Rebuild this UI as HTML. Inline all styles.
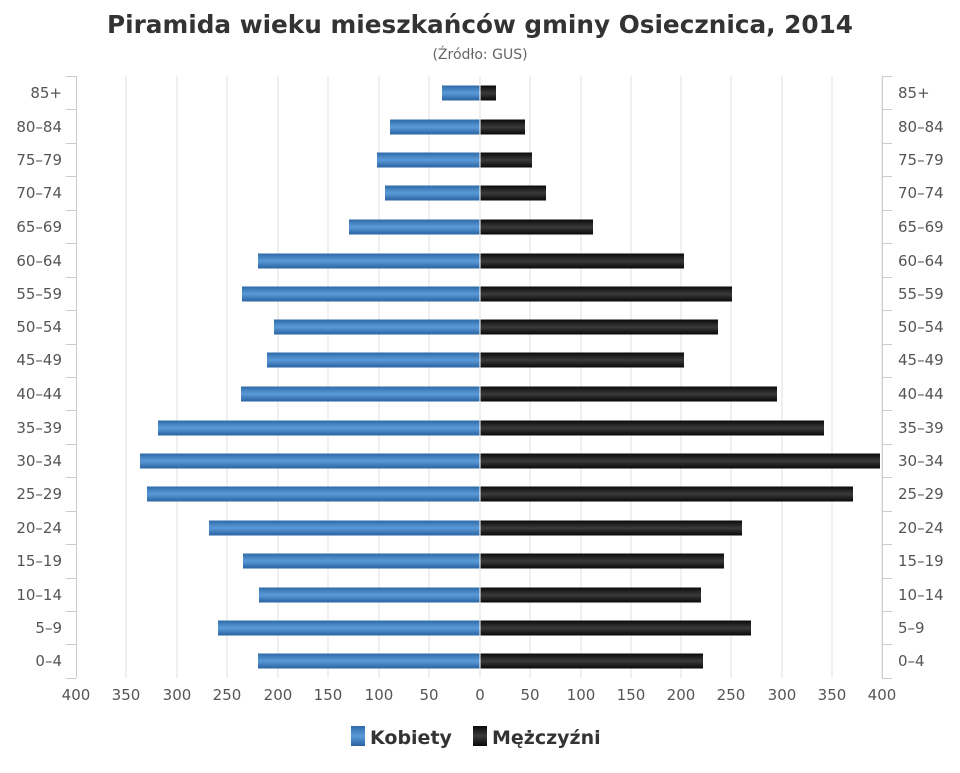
<!DOCTYPE html>
<html><head><meta charset="utf-8"><style>
html,body{margin:0;padding:0;background:#fff}
svg text{font-family:"DejaVu Sans","Liberation Sans",sans-serif}
</style></head><body>
<svg id="s" width="960" height="768" viewBox="0 0 960 768" xmlns="http://www.w3.org/2000/svg">
<defs>
<linearGradient id="gb" x1="0" y1="0" x2="0" y2="1">
<stop offset="0" stop-color="#2f6aa8"/><stop offset="0.5" stop-color="#5a9ad8"/><stop offset="1" stop-color="#2a62a0"/></linearGradient>
<linearGradient id="gk" x1="0" y1="0" x2="0" y2="1">
<stop offset="0" stop-color="#0a0a0a"/><stop offset="0.5" stop-color="#3a3a3a"/><stop offset="1" stop-color="#080808"/></linearGradient>
</defs>
<g id="grid"></g>
<g id="bars"></g>
<text x="480" y="33" text-anchor="middle" font-size="25" font-weight="bold" fill="#333" textLength="746" lengthAdjust="spacingAndGlyphs">Piramida wieku mieszkańców gminy Osiecznica, 2014</text>
<text x="480" y="59" text-anchor="middle" font-size="14" fill="#666">(Źródło: GUS)</text>
<g font-size="15" fill="#555" text-anchor="end">
<text x="62" y="98">85+</text><text x="62" y="132">80–84</text><text x="62" y="165">75–79</text><text x="62" y="198">70–74</text><text x="62" y="232">65–69</text><text x="62" y="266">60–64</text><text x="62" y="299">55–59</text><text x="62" y="332">50–54</text><text x="62" y="365">45–49</text><text x="62" y="399">40–44</text><text x="62" y="433">35–39</text><text x="62" y="466">30–34</text><text x="62" y="499">25–29</text><text x="62" y="533">20–24</text><text x="62" y="566">15–19</text><text x="62" y="600">10–14</text><text x="62" y="633">5–9</text><text x="62" y="666">0–4</text>
</g>
<g font-size="15" fill="#555" text-anchor="start">
<text x="898" y="98">85+</text><text x="898" y="132">80–84</text><text x="898" y="165">75–79</text><text x="898" y="198">70–74</text><text x="898" y="232">65–69</text><text x="898" y="266">60–64</text><text x="898" y="299">55–59</text><text x="898" y="332">50–54</text><text x="898" y="365">45–49</text><text x="898" y="399">40–44</text><text x="898" y="433">35–39</text><text x="898" y="466">30–34</text><text x="898" y="499">25–29</text><text x="898" y="533">20–24</text><text x="898" y="566">15–19</text><text x="898" y="600">10–14</text><text x="898" y="633">5–9</text><text x="898" y="666">0–4</text>
</g>
<g font-size="15" fill="#555" text-anchor="middle">
<text x="76" y="700">400</text><text x="126" y="700">350</text><text x="177" y="700">300</text><text x="227" y="700">250</text><text x="278" y="700">200</text><text x="328" y="700">150</text><text x="379" y="700">100</text><text x="429" y="700">50</text><text x="480" y="700">0</text><text x="530" y="700">50</text><text x="581" y="700">100</text><text x="631" y="700">150</text><text x="681" y="700">200</text><text x="731" y="700">250</text><text x="782" y="700">300</text><text x="832" y="700">350</text><text x="882" y="700">400</text>
</g>
<rect x="351" y="726" width="14" height="20" fill="url(#gb)"/>
<text x="370" y="744" font-size="19" font-weight="bold" fill="#333">Kobiety</text>
<rect x="473" y="726" width="14" height="20" fill="url(#gk)"/>
<text x="492" y="744" font-size="19" font-weight="bold" fill="#333">Mężczyźni</text>
</svg>
<script>
var NS="http://www.w3.org/2000/svg";
function el(p,t,a){var e=document.createElementNS(NS,t);for(var k in a)e.setAttribute(k,a[k]);p.appendChild(e);return e;}
var g=document.getElementById("grid"),b=document.getElementById("bars");
var xs=[126,177,227,278,328,379,429,480,530,581,631,681,731,782,832,882];
xs.forEach(function(x){el(g,"line",{x1:x,x2:x,y1:76,y2:678,stroke:"#e2e2e2","stroke-width":1});});
el(g,"line",{x1:76.5,x2:76.5,y1:76,y2:678,stroke:"#ccc"});
el(g,"line",{x1:882.5,x2:882.5,y1:76,y2:678,stroke:"#ccc"});
for(var i=0;i<=18;i++){var y=Math.round(76+i*33.44)+.5;
el(g,"line",{x1:66,x2:76,y1:y,y2:y,stroke:"#ccc"});el(g,"line",{x1:882,x2:892,y1:y,y2:y,stroke:"#ccc"});}
var ys=[93,127,160,193,227,261,294,327,360,394,428,461,494,528,561,595,628,661];
var w=[38,90,103,95,131,222,238,206,213,239,322,340,333,271,237,221,262,222];
var m=[16,45,52,66,113,204,252,238,204,297,344,400,373,262,244,221,271,223];
ys.forEach(function(y,i){
el(b,"rect",{x:480-w[i],y:y-7.5,width:w[i],height:15,fill:"url(#gb)"});
el(b,"rect",{x:480,y:y-7.5,width:m[i],height:15,fill:"url(#gk)"});
el(b,"line",{x1:480,x2:480,y1:y-7.5,y2:y+7.5,stroke:"#fff","stroke-width":1});});
</script>
</body></html>
